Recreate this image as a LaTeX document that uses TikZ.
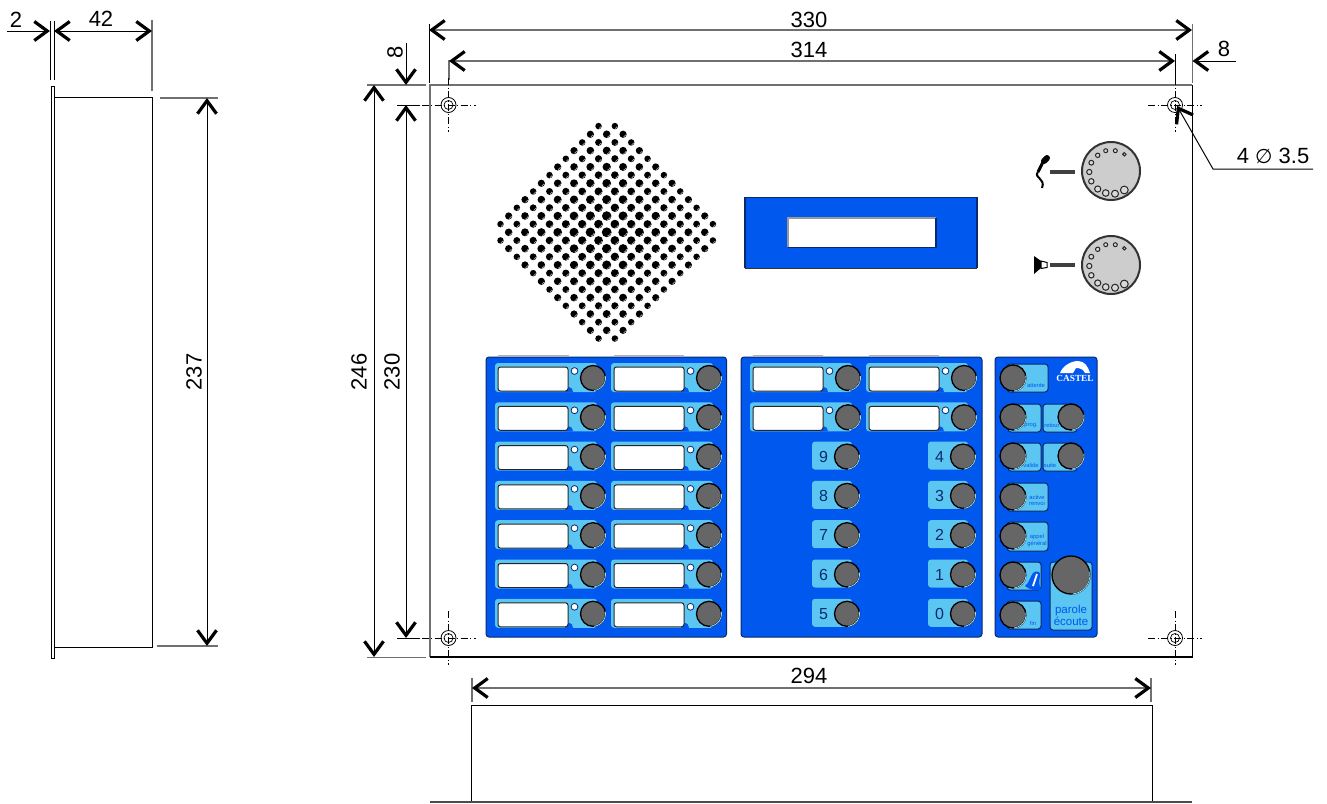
\documentclass[tikz,border=0pt]{standalone}
\usepackage{fontspec}
\setmainfont{Liberation Sans}
\newfontfamily\djfont{DejaVu Sans}
\newfontfamily\serfont{Liberation Serif}
\usetikzlibrary{arrows.meta,calc}
\definecolor{pblue}{HTML}{0058EE}
\definecolor{pcyan}{HTML}{5CC6F2}
\definecolor{pnavy}{HTML}{0A2A6E}
\definecolor{pknob}{HTML}{666666}
\definecolor{pdisc}{HTML}{CDCDCD}
\definecolor{pgline}{HTML}{707070}
\tikzset{
  dimtip/.tip={Straight Barb[length=13pt,width=19pt,line width=3.2pt,color=black]},
  dimline/.style={line width=1pt,black},
  grayline/.style={line width=1.4pt,pgline},
  extline/.style={line width=1pt,black},
  centerline/.style={line width=0.8pt,black,dash pattern=on 7pt off 2.5pt on 1pt off 2.5pt},
  dimlabel/.style={font=\fontsize{22}{22}\selectfont,inner sep=0pt},
  panel/.style={fill=pblue,draw=pnavy,line width=1pt,rounded corners=3pt},
  tile/.style={fill=pcyan,draw=pnavy,line width=1pt,rounded corners=3pt},
  softtile/.style={fill=pcyan,rounded corners=3pt},
  labelbox/.style={fill=white,draw=black!85,line width=1pt,rounded corners=2.5pt},
  tiletext/.style={font=\fontsize{5.8}{6.4}\selectfont,text=pblue,inner sep=0pt,align=center},
  numtext/.style={font=\fontsize{16}{16}\selectfont,text=pnavy,inner sep=0pt},
}
% button: x y radius
\newcommand{\knobbtn}[3]{%
  \fill[pknob] (#1,#2) circle[radius=#3];
  \draw[black,line width=1.3pt] (#1,#2) circle[radius=#3];
  \draw[cyan!40,line width=0.8pt] (#1,#2) ++(-10:#3) arc[start angle=-10,end angle=85,radius=#3];
}
% labelled row: label left x, row y
\newcommand{\labrow}[2]{%
  \pgfmathsetmacro{\xa}{#1-3}\pgfmathsetmacro{\xb}{#1+99}
  \pgfmathsetmacro{\ya}{#2-15}\pgfmathsetmacro{\yb}{#2+14}
  \fill[softtile] (\xa,\ya) rectangle (\xb,\yb);
  \pgfmathsetmacro{\nx}{#1+75}\pgfmathsetmacro{\ny}{#2+14}
  \fill[pblue] (\nx,\ny) arc[start angle=0,end angle=-180,x radius=4,y radius=5] -- cycle;
  \pgfmathsetmacro{\lb}{#1+70}\pgfmathsetmacro{\la}{#2-11}\pgfmathsetmacro{\lc}{#2+13}
  \draw[labelbox] (#1,\la) rectangle (\lb,\lc);
  \pgfmathsetmacro{\ledx}{#1+76.5}\pgfmathsetmacro{\ledy}{#2-7}
  \draw[fill=white,draw=pnavy,line width=0.8pt] (\ledx,\ledy) circle[radius=3.4];
  \pgfmathsetmacro{\bx}{#1+95}
  \knobbtn{\bx}{#2}{12.5}
}
% number row: tile left x, row y, digit
\newcommand{\numrow}[3]{%
  \pgfmathsetmacro{\xb}{#1+40}\pgfmathsetmacro{\ya}{#2-15}\pgfmathsetmacro{\yb}{#2+13}
  \fill[softtile] (#1,\ya) rectangle (\xb,\yb);
  \pgfmathsetmacro{\tx}{#1+11.5}
  \node[numtext] (num#3) at (\tx,#2) {#3};
  \pgfmathsetmacro{\bx}{#1+35}
  \knobbtn{\bx}{#2}{12.5}
}
% disc with holes
\newcommand{\graddisc}[2]{%
  \fill[pdisc] (#1,#2) circle[radius=29];
  \draw[black!80,line width=2pt] (#1,#2) circle[radius=29];
  \foreach \dx/\dy/\dr in {13.3/-16.7/1.7,4.3/-20.3/2,-5.3/-20.3/2,-13.3/-15.7/2.2,-19.7/-8.3/2.4,-21.7/1/2.6,-19.7/10.3/2.7,-13.3/18/3.1,-5.3/22/3.3,4/22.7/3.5,13.3/19/3.9}{
    \draw[black!85,fill=white!85!black,line width=1pt] ($(#1,#2)+(\dx,\dy)$) circle[radius=\dr];
  }
}
% hole with centre lines
\newcommand{\platehole}[2]{%
  \draw[black,line width=0.8pt] (#1,#2) circle[radius=7.5];
  \draw[black,line width=0.7pt] (#1,#2) circle[radius=4.5];
  \draw[centerline] ($(#1,#2)+(-27,0)$) -- ($(#1,#2)+(27,0)$);
  \draw[centerline] ($(#1,#2)+(0,-27)$) -- ($(#1,#2)+(0,27)$);
}
\begin{document}
\begin{tikzpicture}[x=1pt,y=-1pt]
\useasboundingbox (0,0) rectangle (1327,803);
\fill[white] (0,0) rectangle (1327,803);

% --- side view ---
\draw[black,line width=1pt] (51,658) -- (51,86) -- (54.5,86) -- (54.5,658) -- cycle;
\draw[black,line width=1pt] (54.5,97) -- (152.5,97) -- (152.5,647) -- (54.5,647);
\draw[extline] (50.5,21) -- (50.5,80);
\draw[extline] (54.5,21) -- (54.5,80);
\draw[grayline] (152,20) -- (152,91);
\draw[grayline] (160,98) -- (218,98);
\draw[grayline] (157,646) -- (218,646);
\coordinate (d2a) at (7,31); \coordinate (d2b) at (50,31);
\draw[dimline,-{dimtip}] (d2a) -- (d2b);
\coordinate (d42a) at (54,31); \coordinate (d42b) at (152,31);
\draw[dimline,{dimtip}-{dimtip}] (d42a) -- (d42b);
\coordinate (d237a) at (207,98); \coordinate (d237b) at (207,646);
\draw[dimline,{dimtip}-{dimtip}] (d237a) -- (d237b);
\node[dimlabel] (t2) at (16,20) {2};
\node[dimlabel] (t42) at (101,19) {42};
\node[dimlabel,rotate=90] (t237) at (194,372) {237};

% --- front plate ---
\draw[grayline] (1192,85) -- (430,85) -- (430,657);
\draw[black,line width=1.2pt] (430,657) -- (1192.5,657) -- (1192.5,85);

% --- top/left/right dimensions ---
\draw[extline] (429,24) -- (429,83);
\draw[grayline] (1192.5,24) -- (1192.5,83);
\draw[grayline] (449,60) -- (449,80);
\draw[extline] (1175,54) -- (1175,80);
\coordinate (d330a) at (429,30); \coordinate (d330b) at (1192,30);
\draw[grayline,{dimtip}-{dimtip}] (d330a) -- (d330b);
\coordinate (d314a) at (449,61); \coordinate (d314b) at (1175,61);
\draw[grayline,{dimtip}-{dimtip}] (d314a) -- (d314b);
\coordinate (d8ra) at (1236,61); \coordinate (d8rb) at (1192.5,61);
\draw[dimline,-{dimtip}] (d8ra) -- (d8rb);
\node[dimlabel] (t330) at (809,20) {330};
\node[dimlabel] (t314) at (809,50) {314};
\node[dimlabel] (t8r) at (1224,49) {8};

\draw[grayline] (367,85) -- (426,85);
\draw[grayline] (367,657.5) -- (426,657.5);
\draw[extline] (397,105) -- (420,105);
\draw[extline] (397,638) -- (420,638);
\coordinate (d246a) at (374,85); \coordinate (d246b) at (374,657);
\draw[dimline,{dimtip}-{dimtip}] (d246a) -- (d246b);
\coordinate (d230a) at (406,105); \coordinate (d230b) at (406,638);
\draw[dimline,{dimtip}-{dimtip}] (d230a) -- (d230b);
\coordinate (d8la) at (406,43); \coordinate (d8lb) at (406,85);
\draw[dimline,-{dimtip}] (d8la) -- (d8lb);
\node[dimlabel,rotate=90] (t246) at (359,372) {246};
\node[dimlabel,rotate=90] (t230) at (392,372) {230};
\node[dimlabel,rotate=90] (t8l) at (395,52) {8};

% --- bottom box ---
\draw[black,line width=1pt] (471.5,802) -- (471.5,705) -- (1152,705) -- (1152,802);
\draw[black!70,line width=1.5pt] (430,802) -- (1192,802);
\draw[grayline] (472,678) -- (472,702);
\draw[grayline] (1151,678) -- (1151,702);
\coordinate (d294a) at (472,688); \coordinate (d294b) at (1151,688);
\draw[grayline,{dimtip}-{dimtip}] (d294a) -- (d294b);
\node[dimlabel] (t294) at (809,676) {294};

% --- holes ---
\platehole{448.5}{105}
\platehole{1175}{105}
\platehole{448.5}{638}
\platehole{1175}{638}

% --- leader ---
\coordinate (lda) at (1177,106); \coordinate (ldb) at (1213,169); \coordinate (ldc) at (1313,169);
\draw[dimline,{dimtip}-] (lda) -- (ldb) -- (ldc);
\node[dimlabel] (tdia) at (1273,156) {4 {\djfont\fontsize{20}{20}\selectfont ∅} 3.5};

% --- speaker grid ---
\foreach \k in {-13,...,13}{
  \foreach \i in {-13,...,13}{
    \pgfmathtruncatemacro{\parit}{mod(abs(\i+\k),2)}
    \pgfmathtruncatemacro{\dist}{abs(\i)+abs(\k)}
    \ifnum\parit=0\ifnum\dist<15
      \pgfmathsetmacro{\px}{606.7+8.17*\i}
      \pgfmathsetmacro{\py}{232.3+8.17*\k}
      \pgfmathsetmacro{\pr}{4.9-1.3*\dist/14-(mod(abs(\i),2)==1 ? 0.35 : 0)}
      \fill[black] (\px,\py) circle[radius=\pr];
      \draw[white!65!black,line width=0.7pt] (\px,\py) ++(10:0.8*\pr) arc[start angle=10,end angle=80,radius=0.8*\pr];
    \fi\fi
  }
}

% --- display ---
\fill[pblue] (745,197.5) rectangle (977,268);
\draw[pnavy,line width=1.3pt] (745,268) -- (745,197.5) -- (977,197.5) -- (977,268);
\draw[black!80,line width=1pt] (745,268) -- (977,268);
\fill[white] (787,218) rectangle (936,247);
\draw[black!40,line width=1.2pt] (788,247) -- (788,218) -- (936,218);
\draw[pnavy,line width=1.2pt] (788,247.5) -- (936,247.5) -- (936,218);

% --- discs ---
\graddisc{1111}{171}
\graddisc{1111}{265}
\draw[black!75,line width=3.2pt] (1050,172) -- (1075,172);
\draw[black!75,line width=3.2pt] (1050,265) -- (1075,265);
% microphone
\draw[black,line width=6pt,line cap=round] (1047,158) -- (1044,161);
\draw[black,line width=3pt] (1043,162) -- (1038,172);
\draw[black,line width=2pt] (1038,172) .. controls (1033,178) and (1046,178) .. (1042,188);
% loudspeaker
\fill[black] (1034,256) -- (1041,261) -- (1041,268) -- (1034,274) -- cycle;
\draw[black,line width=1pt,fill=white] (1041,261) -- (1047,262.5) -- (1047,267.5) -- (1041,268.5) -- cycle;

% --- panel 1 ---
\draw[black!30,line width=1.3pt] (498,355.5) -- (569,355.5);
\draw[black!30,line width=1.3pt] (614,355.5) -- (684,355.5);
\draw[panel] (486,357) rectangle (726.5,637);
\foreach \r in {0,...,6}{
  \pgfmathsetmacro{\ry}{378+39.3*\r}
  \labrow{498}{\ry}
  \labrow{614}{\ry}
}
% --- panel 2 ---
\draw[black!30,line width=1.3pt] (753,355.5) -- (823,355.5);
\draw[black!30,line width=1.3pt] (869,355.5) -- (939,355.5);
\draw[panel] (741,357) rectangle (982,637);
\foreach \r in {0,1}{
  \pgfmathsetmacro{\ry}{378+39.3*\r}
  \labrow{753}{\ry}
  \labrow{869}{\ry}
}
\foreach \r/\d/\e in {2/9/4,3/8/3,4/7/2,5/6/1,6/5/0}{
  \pgfmathsetmacro{\ry}{378+39.3*\r}
  \numrow{812}{\ry}{\d}
  \numrow{928}{\ry}{\e}
}

% --- panel 3 ---
\draw[panel] (995,357) rectangle (1097,637);
\draw[tile] (1007,364) rectangle (1048,392);
\draw[tile] (1008,404) rectangle (1041,432);
\draw[tile] (1043,404) rectangle (1077,432);
\draw[tile] (1008,443) rectangle (1041,471);
\draw[tile] (1043,443) rectangle (1077,471);
\draw[tile] (1007,483) rectangle (1048,511);
\draw[tile] (1007,522) rectangle (1048,551);
\draw[tile] (1007,562) rectangle (1041,590);
\draw[tile] (1007,601) rectangle (1041,629);
\draw[tile] (1050,562) rectangle (1092,630);
\node[tiletext] (lattente) at (1036,385.5) {attente};
\node[tiletext] (lprog) at (1031,426) {prog.};
\node[tiletext] (lretour) at (1052,426) {retour};
\node[tiletext] (lvalide) at (1031,465) {valide};
\node[tiletext] (lsuite) at (1050,465) {suite};
\node[tiletext] (lactive) at (1037,500.5) {active\\renvoi};
\node[tiletext] (lappel) at (1037,540.5) {appel\\général};
\node[tiletext] (lfin) at (1033,623) {fin};
\node[tiletext,font=\fontsize{11.5}{11.5}\selectfont] (lparole) at (1071,615.5) {parole\\écoute};
\fill[pblue] (1025,586) .. controls (1029,583) and (1030,577) .. (1033,573) .. controls (1036,570) and (1041,571) .. (1040,576) .. controls (1039,581) and (1039,586) .. (1041,589.5) .. controls (1036,591) and (1030,590) .. (1025,586) -- cycle;
\draw[white,line width=1.8pt] (1037,574) -- (1033,586);
\knobbtn{1013}{378}{13}
\knobbtn{1013}{417}{13}
\knobbtn{1071}{417}{13}
\knobbtn{1013}{456}{13}
\knobbtn{1071}{456}{13}
\knobbtn{1013}{497}{13}
\knobbtn{1013}{536}{13}
\knobbtn{1013}{575}{13}
\knobbtn{1013}{615}{13}
\knobbtn{1071}{575}{19}
\node[inner sep=0pt,text=white,font=\serfont\bfseries\fontsize{9.3}{9.3}\selectfont] (lcastel) at (1075,378) {CASTEL};
\fill[white] (1060,373) .. controls (1063,365) and (1072,361) .. (1078,361) .. controls (1085,361) and (1088,367) .. (1090,373) -- (1085,373) .. controls (1083,369) and (1080,368) .. (1076,368) -- (1073,373) -- cycle;
\end{tikzpicture}
\end{document}
